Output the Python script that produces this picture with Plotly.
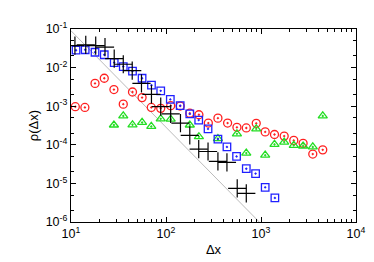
import plotly.graph_objects as go

# black crosses
x_black = [11.0, 14.3, 18.2, 22.8, 28.5, 35.5, 44.1, 55.2, 70.3, 88, 112, 142, 178, 221, 277, 352, 438, 562, 700]
y_black = [0.037, 0.039, 0.037, 0.034, 0.017, 0.0122, 0.0083, 0.0039, 0.00203, 0.00097, 0.00063,
           0.000366, 0.000175, 7.7e-5, 6.7e-5, 3.7e-5, 3.5e-5, 7.4e-6, 5.5e-6]

# blue squares
x_blue = [11.3, 14.1, 17.9, 22.4, 28.5, 35.5, 44.4, 56, 70.3, 88, 111, 141, 178, 221, 277, 352, 438,
          553, 700, 877, 1107, 1400]
y_blue = [0.0282, 0.029, 0.025, 0.0215, 0.0135, 0.0106, 0.0081, 0.0053, 0.0035, 0.0025, 0.0015, 0.00103,
          0.00063, 0.000436, 0.000258, 0.000141, 8.8e-5, 5e-5, 2.4e-5, 1.8e-5, 7.9e-6, 4.2e-6]

# red circles
x_red = [11.1, 14.0, 17.9, 22.4, 28.3, 35.5, 44.4, 56, 70, 88, 112, 141, 178, 222, 279, 352, 445, 558,
         700, 891, 1107, 1387, 1754, 2213, 2774, 3508, 4467]
y_red = [0.00097, 0.00093, 0.0039, 0.0053, 0.0027, 0.00113, 0.00233, 0.00167, 0.00093, 0.00088, 0.00103,
         0.00101, 0.00066, 0.0006, 0.000366, 0.00049, 0.000366, 0.000284, 0.000273, 0.00036, 0.000216,
         0.000185, 0.000168, 0.00013, 0.000109, 5.75e-5, 7.4e-5]

# green triangles
x_green = [28.3, 35.5, 44.4, 56, 70, 88, 112, 178, 222, 352, 558, 700, 891, 1107, 1387, 1754, 2213,
           2774, 3508, 4467]
y_green = [0.000326, 0.00056, 0.00033, 0.00038, 0.0003, 0.00047, 0.00046, 0.000326, 0.000162, 0.000144,
           0.000192, 6.1e-5, 0.000258, 5.4e-5, 0.000103, 0.000118, 9.7e-5, 9.3e-5, 8.8e-5, 0.00056]

# tick labels
x_exponents = [1, 2, 3, 4]
y_exponents = [-6, -5, -4, -3, -2, -1]
x_ticktext = ["10<sup>%d</sup>" % e for e in x_exponents]
y_ticktext = ["10<sup>%d</sup>" % e for e in y_exponents]
x_minor_digits = [2, 3, 4, 5, 6, 7, 8, 9]
y_minor_digits = [2, 5]

# grey power-law guide: y = amp * (x/10)^slope
guide_x = [10, 957]
guide_amp = 0.09
guide_slope = -2.5
guide_y = [guide_amp * (x / 10) ** guide_slope for x in guide_x]

x_tickvals = [10.0 ** e for e in x_exponents]
y_tickvals = [10.0 ** e for e in y_exponents]
x_minor = [d * 10.0 ** e for e in x_exponents[:-1] for d in x_minor_digits]
y_minor = [d * 10.0 ** e for e in y_exponents[:-1] for d in y_minor_digits]

fig = go.Figure()
fig.add_trace(go.Scatter(x=guide_x, y=guide_y, mode="lines",
                         line=dict(color="#bbbbbb", width=1), showlegend=False))
fig.add_trace(go.Scatter(x=x_red, y=y_red, mode="markers",
                         marker=dict(symbol="circle-open-dot", size=8, color="#ff2020",
                                     line=dict(width=1.3, color="#ff2020")), showlegend=False))
fig.add_trace(go.Scatter(x=x_green, y=y_green, mode="markers",
                         marker=dict(symbol="triangle-up-open-dot", size=8, color="#22dd22",
                                     line=dict(width=1.3, color="#22dd22")), showlegend=False))
fig.add_trace(go.Scatter(x=x_blue, y=y_blue, mode="markers",
                         marker=dict(symbol="square-open-dot", size=7.5, color="#2020ff",
                                     line=dict(width=1.3, color="#2020ff")), showlegend=False))
fig.add_trace(go.Scatter(x=x_black, y=y_black, mode="markers",
                         marker=dict(symbol="cross-thin", size=13, color="black",
                                     line=dict(width=1.2, color="black")), showlegend=False))

axis_common = dict(type="log", showline=True, linecolor="black", linewidth=1.3, mirror="ticks",
                   ticks="inside", ticklen=5, tickcolor="black", tickmode="array",
                   showgrid=False, zeroline=False, ticklabeloverflow="allow",
                   tickfont=dict(size=12.5, color="black"))

fig.update_xaxes(range=[1, 4], tickvals=x_tickvals, ticktext=x_ticktext,
                 minor=dict(tickmode="array", tickvals=x_minor, ticks="inside", ticklen=3,
                            tickcolor="black", showgrid=False),
                 title=dict(text="Δx", font=dict(size=13, color="black"), standoff=4),
                 **axis_common)
fig.update_yaxes(range=[-6, -1], tickvals=y_tickvals, ticktext=y_ticktext,
                 minor=dict(tickmode="array", tickvals=y_minor, ticks="inside", ticklen=3,
                            tickcolor="black", showgrid=False),
                 title=dict(text="ρ(Δx)", font=dict(size=13, color="black"), standoff=4),
                 **axis_common)

fig.update_layout(width=374, height=262, margin=dict(l=63, r=26, t=17, b=48),
                  paper_bgcolor="white", plot_bgcolor="white",
                  font=dict(family="Liberation Sans, Arial, sans-serif", size=13, color="black"))

fig.write_html("out.html")
